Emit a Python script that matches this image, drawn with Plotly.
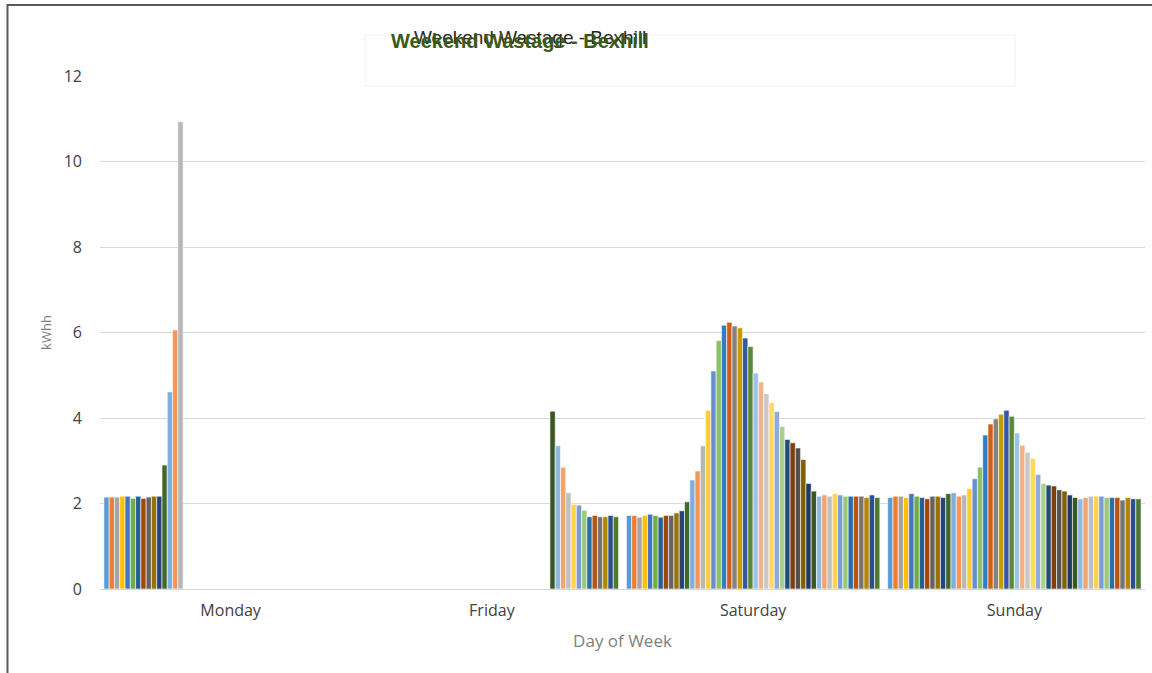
import colorsys
import plotly.graph_objects as go

categories = ["Monday", "Friday", "Saturday", "Sunday"]

monday = [2.15, 2.15, 2.15, 2.17, 2.17, 2.12, 2.17, 2.12, 2.15, 2.17, 2.17, 2.90,
          4.61, 6.06, 10.93] + [None] * 33

friday = [None] * 35 + [4.16, 3.35, 2.85, 2.25, 1.98, 1.96, 1.84, 1.69, 1.72, 1.69,
                        1.69, 1.72, 1.69]

saturday = [1.72, 1.72, 1.68, 1.72, 1.75, 1.72, 1.68, 1.72, 1.72, 1.78, 1.83, 2.04,
            2.55, 2.76, 3.35, 4.18, 5.10, 5.81, 6.17, 6.24, 6.15, 6.11, 5.87, 5.67,
            5.05, 4.84, 4.57, 4.36, 4.15, 3.80, 3.50, 3.42, 3.30, 3.03, 2.47, 2.29,
            2.17, 2.20, 2.17, 2.23, 2.20, 2.17, 2.17, 2.17, 2.17, 2.14, 2.20, 2.14]

sunday = [2.14, 2.17, 2.17, 2.14, 2.23, 2.17, 2.14, 2.11, 2.17, 2.17, 2.14, 2.23,
          2.25, 2.17, 2.20, 2.35, 2.58, 2.85, 3.60, 3.86, 3.98, 4.09, 4.18, 4.04,
          3.65, 3.36, 3.20, 3.06, 2.68, 2.47, 2.43, 2.41, 2.32, 2.29, 2.20, 2.14,
          2.11, 2.14, 2.17, 2.17, 2.17, 2.14, 2.14, 2.14, 2.08, 2.14, 2.11, 2.11]

y_ticks = [0, 2, 4, 6, 8, 10, 12]

# Excel Office theme accent colours and series-variation tiers
accents = ["#5B9BD5", "#ED7D31", "#A5A5A5", "#FFC000", "#4472C4", "#70AD47"]
tiers = [(1.0, 0.0), (0.6, 0.0), (0.8, 0.2), (0.8, 0.0),
         (0.6, 0.4), (0.5, 0.0), (0.7, 0.3), (0.7, 0.0)]


def tone(hex_col, mod, off):
    r, g, b = (int(hex_col[i:i + 2], 16) / 255 for i in (1, 3, 5))
    h, l, s = colorsys.rgb_to_hls(r, g, b)
    l = min(1.0, l * mod + off)
    r, g, b = colorsys.hls_to_rgb(h, l, s)
    return "#%02X%02X%02X" % (round(r * 255), round(g * 255), round(b * 255))


colors = [tone(accents[i % 6], *tiers[i // 6]) for i in range(48)]

fig = go.Figure()
for i in range(48):
    fig.add_trace(go.Bar(
        x=categories,
        y=[monday[i], friday[i], saturday[i], sunday[i]],
        name="Series%d" % (i + 1),
        marker=dict(color=colors[i], line=dict(color="white", width=0.6)),
    ))

L, R, T, B = 100, 1145, 76, 589
W, H = R - L, B - T


def px(x):
    return (x - L) / W


def py(y):
    return (B - y) / H


fig.update_layout(
    width=1152, height=673,
    margin=dict(l=L, r=1152 - R, t=T, b=673 - B),
    paper_bgcolor="white", plot_bgcolor="white",
    barmode="group", bargap=0.03, bargroupgap=0.0,
    showlegend=False,
    font=dict(family="Open Sans", color="#404040"),
    xaxis=dict(
        tickfont=dict(size=16, color="#404040"),
        showline=True, linecolor="#D9D9D9", linewidth=1,
        ticks="", ticklabelstandoff=7,
        title=dict(text="Day of Week", font=dict(size=17, color="#7F7F7F"), standoff=14),
    ),
    yaxis=dict(
        range=[0, 12], tickvals=y_ticks,
        tickfont=dict(size=16, color="#404040"),
        showgrid=True, gridcolor="#D9D9D9", gridwidth=1,
        zeroline=False, ticks="", ticklabelstandoff=17,
        title=dict(text="kWhh", font=dict(size=13, color="#7F7F7F"), standoff=9),
    ),
)

# white title box
fig.add_shape(type="rect", xref="paper", yref="paper",
              x0=px(365), x1=px(1015), y0=py(86), y1=py(35),
              fillcolor="white", line=dict(color="#F2F2F2", width=1), layer="above")
# outer frame (left and top)
fig.add_shape(type="line", xref="paper", yref="paper",
              x0=px(7.5), x1=px(7.5), y0=py(4), y1=py(680),
              line=dict(color="#595959", width=2))
fig.add_shape(type="line", xref="paper", yref="paper",
              x0=px(7), x1=px(1160), y0=py(5), y1=py(5),
              line=dict(color="#595959", width=2))

fig.add_annotation(text="Weekend Wastage - Bexhill", xref="paper", yref="paper",
                   x=px(530), y=py(37), xanchor="center", yanchor="middle",
                   showarrow=False,
                   font=dict(family="Liberation Sans", size=19, color="#262626"))
fig.add_annotation(text="<b>Weekend Wastage - Bexhill</b>", xref="paper", yref="paper",
                   x=px(520), y=py(41), xanchor="center", yanchor="middle",
                   showarrow=False,
                   font=dict(family="Liberation Sans", size=20, color="#3A5A14"))

fig.write_html(
    "out.html",
    config={"displayModeBar": False},
    post_script="document.body.style.margin='0';document.body.style.overflow='hidden';",
)
